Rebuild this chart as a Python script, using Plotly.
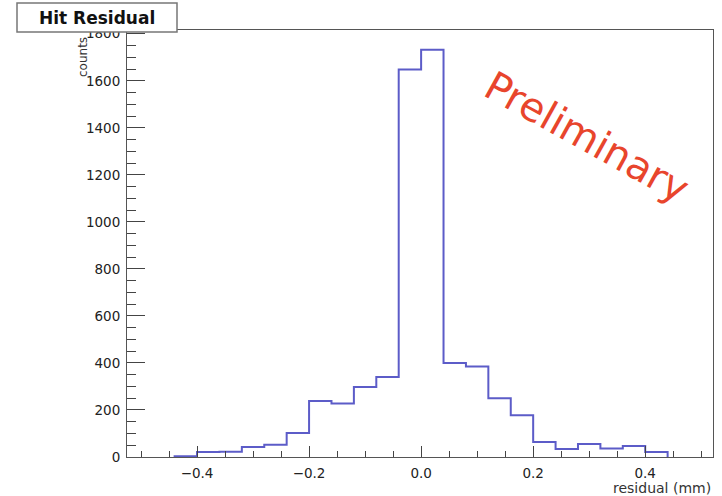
import plotly.graph_objects as go

# ---- data ----
bin_start = -0.44          # lower edge of the first non-empty bin
bin_width = 0.04
counts = [3, 21, 22, 42, 52, 102, 238, 228, 298, 340, 1648, 1732,
          400, 385, 250, 178, 64, 34, 55, 36, 47, 21]
x_ticks = [-0.4, -0.2, 0.0, 0.2, 0.4]
y_ticks = [0, 200, 400, 600, 800, 1000, 1200, 1400, 1600, 1800]
title_text = "Hit Residual"
x_title = "residual (mm)"
y_title = "counts"
watermark = "Preliminary"

# ---- layout geometry ----
W, H = 722, 496
L, R, T, B = 127, 9, 30, 39
pw, ph = W - L - R, H - T - B

def px(x):  # pixel -> paper x
    return (x - L) / pw

def py(y):  # pixel -> paper y
    return (H - B - y) / ph

edges = [round(bin_start + i * bin_width, 4) for i in range(len(counts) + 1)]
xs = [edges[0]] + edges[:-1] + [edges[-1], edges[-1]]
ys = [0] + counts + [counts[-1], 0]

FONT = "DejaVu Sans"

fig = go.Figure()
fig.add_trace(go.Scatter(
    x=xs, y=ys, mode="lines",
    line=dict(shape="hv", color="#5c5cc8", width=2),
    hoverinfo="skip", showlegend=False,
))

fig.update_layout(
    width=W, height=H,
    margin=dict(l=L, r=R, t=T, b=B, pad=0),
    paper_bgcolor="white", plot_bgcolor="white",
    font=dict(family=FONT, size=13.5, color="#222"),
    showlegend=False,
    xaxis=dict(
        range=[-0.525, 0.521], tickvals=x_ticks, tickformat=".1f",
        ticks="inside", ticklen=11, tickwidth=1, tickcolor="#444",
        minor=dict(dtick=0.05, tick0=0, ticks="inside", ticklen=6, tickcolor="#444"),
        showgrid=False, zeroline=False,
        showline=True, linecolor="#555", linewidth=1, mirror=True,
        tickfont=dict(family=FONT, size=13.5, color="#222"),
        ticklabelstandoff=4,
    ),
    yaxis=dict(
        range=[0, 1816], tickvals=y_ticks,
        ticks="inside", ticklen=18, tickwidth=1, tickcolor="#444",
        minor=dict(dtick=50, tick0=0, ticks="inside", ticklen=9, tickcolor="#444"),
        showgrid=False, zeroline=False,
        showline=True, linecolor="#555", linewidth=1, mirror=True,
        tickfont=dict(family=FONT, size=13.5, color="#222"),
        ticklabelstandoff=3,
    ),
)

# title box
fig.add_shape(type="rect", xref="paper", yref="paper",
              x0=px(17), x1=px(177), y0=py(32), y1=py(3),
              line=dict(color="#777", width=1.5), fillcolor="white", layer="above")
fig.add_annotation(xref="paper", yref="paper", x=px(97), y=py(17.5),
                   text=f"<b>{title_text}</b>", showarrow=False,
                   xanchor="center", yanchor="middle",
                   font=dict(family=FONT, size=17, color="#111"))

# y axis title
fig.add_annotation(xref="paper", yref="paper", x=px(83), y=py(57),
                   text=y_title, showarrow=False, textangle=-90,
                   xanchor="center", yanchor="middle",
                   font=dict(family=FONT, size=12, color="#333"))

# x axis title
fig.add_annotation(xref="paper", yref="paper", x=px(713), y=py(488),
                   text=x_title, showarrow=False,
                   xanchor="right", yanchor="middle",
                   font=dict(family=FONT, size=14, color="#333"))

# watermark
fig.add_annotation(xref="paper", yref="paper", x=px(587), y=py(137),
                   text=watermark, showarrow=False, textangle=29,
                   xanchor="center", yanchor="middle",
                   font=dict(family=FONT, size=40, color="#e8452c"))

fig.write_html("out.html")
